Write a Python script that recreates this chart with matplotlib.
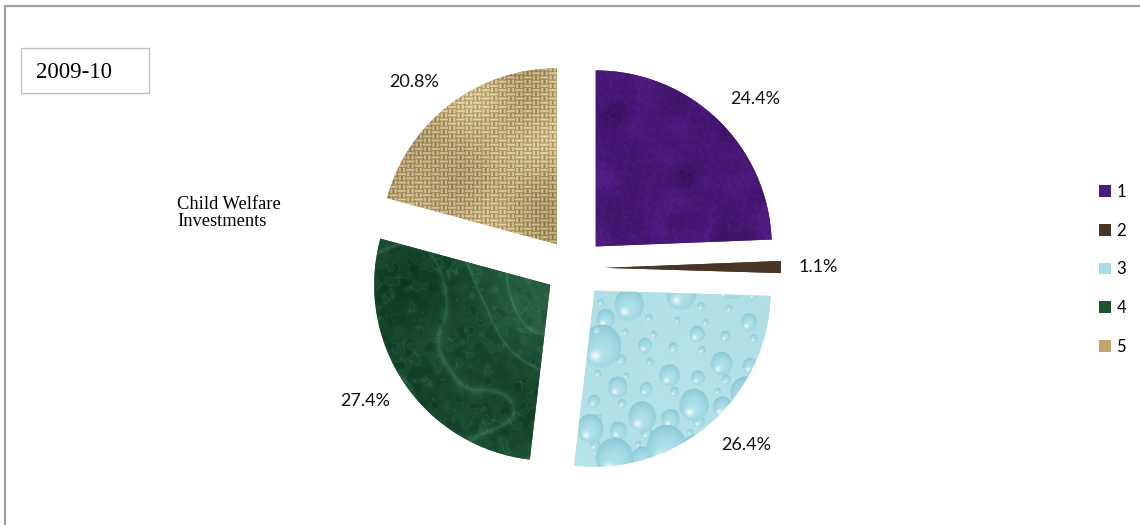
#!/usr/bin/env python3
"""child_welfare_pie.py - textured exploded pie of child welfare investments, 2009-10"""

import numpy as np
import matplotlib
matplotlib.use("Agg")
import matplotlib.pyplot as plt
from matplotlib.patches import Patch, Rectangle

# Share of investment per head (percent)
categories = ["1", "2", "3", "4", "5"]
shares = [24.4, 1.1, 26.4, 27.4, 20.8]
year_label = "2009-10"
side_title = "Child Welfare\nInvestments"

# Flat colours used for the legend keys
key_colors = ["#4b1a7e", "#4a3526", "#a6dde6", "#1a5530", "#c4a46c"]

W_PX, H_PX = 1140, 525
TEX = 420  # texture size in pixels


def hex_rgb(h):
    h = h.lstrip("#")
    return np.array([int(h[i:i + 2], 16) / 255 for i in (0, 2, 4)])


def lerp_color(t, c0, c1):
    t = np.clip(t, 0, 1)[..., None]
    return (1 - t) * hex_rgb(c0) + t * hex_rgb(c1)


def wave_noise(xx, yy, base, octaves=14, offset=0.0):
    """Smooth pseudo-noise made of many plane waves (deterministic)."""
    out = np.zeros_like(xx)
    for k in range(octaves):
        ang = k * 2.39996 + offset
        f = base * (1.0 + 0.37 * (k % 6))
        ph = k * 1.7 + offset * 3.1
        out += np.sin(f * (xx * np.cos(ang) + yy * np.sin(ang)) + ph) / (1 + 0.3 * (k % 6))
    out -= out.min()
    return out / out.max()


yy, xx = np.mgrid[0:TEX, 0:TEX].astype(float)


def purple_felt():
    n = wave_noise(xx, yy, 0.07, 18, 0.3)
    fine = wave_noise(xx, yy, 0.5, 16, 1.1)
    finer = wave_noise(xx, yy, 1.1, 16, 2.3)
    veins = np.exp(-np.abs(np.sin(0.08 * xx + 7 * n)) * 14) * 0.15
    t = 0.5 * n + 0.3 * fine + 0.2 * finer + veins
    return lerp_color(t, "#2a0a4c", "#63249c")


def brown_solid():
    n = wave_noise(xx, yy, 0.08, 8, 2.0)
    return lerp_color(0.4 + 0.3 * n, "#34241a", "#5e4532")


def water_drops():
    img = np.ones((TEX, TEX, 3)) * hex_rgb("#b9e9f0")
    shade = wave_noise(xx, yy, 0.01, 6, 0.7)
    img = img * (0.94 + 0.06 * shade[..., None])
    for k in range(240):
        cx = ((k * 0.7548777) % 1) * TEX
        cy = ((k * 0.5698403) % 1) * TEX
        r = 4 + 22 * ((k * 0.618034) % 1) ** 3
        d = np.hypot((xx - cx) * 1.1, yy - cy) / r
        inside = d < 1
        if not inside.any():
            continue
        # pale body, darker toward the rim and lower side, bright spot near the top
        body = lerp_color(0.15 + 0.45 * d ** 2 + 0.2 * (yy - cy) / r, "#b6e6ee", "#7cbfcd")
        spot = np.exp(-((xx - cx + 0.3 * r) ** 2 + (yy - cy + 0.45 * r) ** 2) / (0.05 * r * r + 1))
        body = body + (1 - body) * spot[..., None] * 0.8
        img[inside] = body[inside]
    return np.clip(img, 0, 1)


def green_marble():
    n = wave_noise(xx, yy, 0.02, 14, 4.2)
    fine = wave_noise(xx, yy, 0.22, 14, 0.9)
    v1 = np.exp(-np.abs(np.sin(0.025 * xx + 0.012 * yy + 7 * n)) * 10)
    v2 = np.exp(-np.abs(np.sin(0.03 * yy - 0.01 * xx + 6 * fine)) * 12)
    t = 0.35 * n + 0.25 * fine + 0.35 * v1 + 0.3 * v2
    return lerp_color(t, "#062e18", "#4a946a")


def burlap():
    cell = 5
    i = (yy // cell).astype(int)
    j = (xx // cell).astype(int)
    across_h = np.sin(np.pi * (yy % cell + 0.5) / cell)
    across_v = np.sin(np.pi * (xx % cell + 0.5) / cell)
    horiz = ((i + j // 2) % 2) == 0
    thread = np.where(horiz, across_h, across_v)
    n = wave_noise(xx, yy, 0.03, 10, 5.5)
    t = 0.75 * thread + 0.3 * n - 0.05
    return lerp_color(t, "#6a4e28", "#f2e2ae")


textures = [purple_felt(), brown_solid(), water_drops(), green_marble(), burlap()]

fig = plt.figure(figsize=(W_PX / 100, H_PX / 100), dpi=100)

# Pie axes: one data unit equals 176 px
cx_px, cy_px = 575, H_PX - 268
half_w, half_h = 1.6, 1.45
unit = 176
ax = fig.add_axes([(cx_px - half_w * unit) / W_PX, (cy_px - half_h * unit) / H_PX,
                   2 * half_w * unit / W_PX, 2 * half_h * unit / H_PX])

wedges, _ = ax.pie(shares, startangle=90, counterclock=False, radius=1.0,
                   explode=[0.17] * len(shares), colors=key_colors,
                   wedgeprops=dict(linewidth=0))
ax.set_aspect("equal")
ax.axis("off")

for wedge, tex, val in zip(wedges, textures, shares):
    wx, wy = wedge.center
    r = wedge.r
    im = ax.imshow(tex, extent=[wx - r, wx + r, wy - r, wy + r], origin="lower",
                   interpolation="bilinear", zorder=wedge.get_zorder() + 0.1)
    im.set_clip_path(wedge)
    # label corner sits just outside the arc, on the wedge's bisector
    mid = np.deg2rad((wedge.theta1 + wedge.theta2) / 2)
    c, s = np.cos(mid), np.sin(mid)
    ha = "left" if c > 0 else "right"
    va = "center" if abs(s) < 0.2 else ("bottom" if s > 0 else "top")
    ax.text(wx + 1.1 * r * c, wy + 1.1 * r * s, f"{val}%",
            ha=ha, va=va, fontsize=13, family="Lato", color="#111111")

ax.set_xlim(-half_w, half_w)
ax.set_ylim(-half_h, half_h)

# Year box in the top-left corner
fig.patches.append(Rectangle((21 / W_PX, 1 - 93 / H_PX), 128 / W_PX, 45 / H_PX,
                             transform=fig.transFigure, facecolor="white",
                             edgecolor="#c0c0c0", linewidth=1))
fig.text(36 / W_PX, 1 - 78 / H_PX, year_label, family="Liberation Serif",
         fontsize=16.5, va="baseline", ha="left")

fig.text(177 / W_PX, 1 - 196 / H_PX, side_title, family="Liberation Serif",
         fontsize=13.3, va="top", ha="left", linespacing=1.0, multialignment="left")

# Outer chart frame (cut off on the right and bottom)
fig.patches.append(Rectangle((5 / W_PX, -0.2), 1.2, 1.2 - 5.5 / H_PX,
                             transform=fig.transFigure, fill=False,
                             edgecolor="#a0a0a0", linewidth=1.6))

handles = [Patch(facecolor=c, edgecolor="none") for c in key_colors]
fig.legend(handles, categories, loc="upper left",
           bbox_to_anchor=(1099 / W_PX, 1 - 184 / H_PX), frameon=False,
           prop=dict(family="Lato", size=12), handlelength=0.7, handleheight=0.7,
           handletextpad=0.35, labelspacing=1.36, borderpad=0, borderaxespad=0)

fig.savefig("out.png", dpi=100)
